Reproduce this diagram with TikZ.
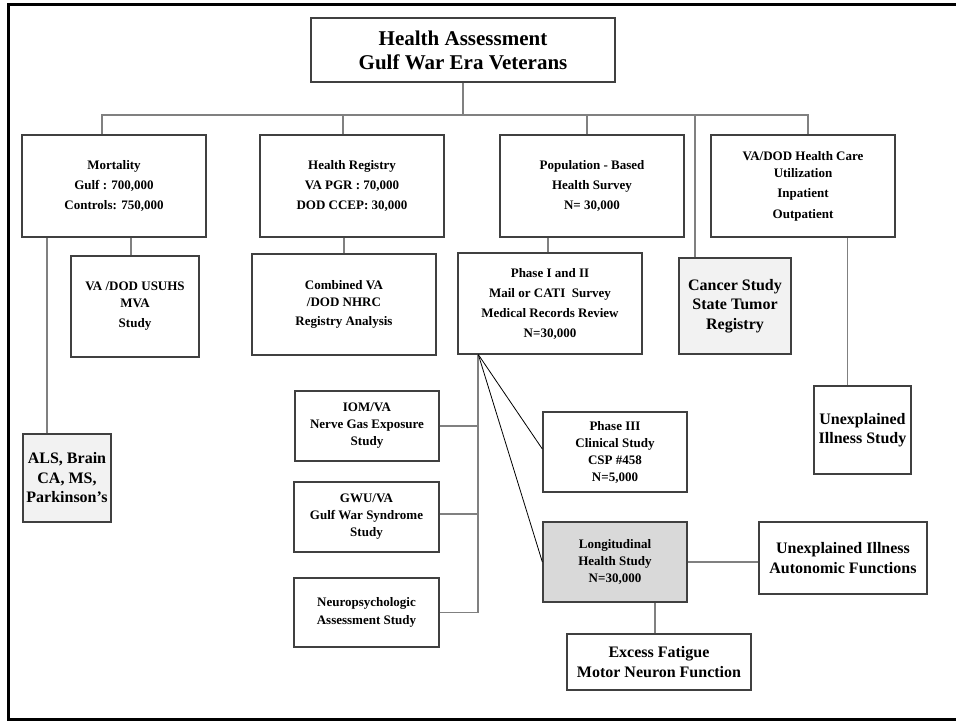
\documentclass[tikz,border=0pt]{standalone}
\usepackage{fontspec}
\setmainfont{Liberation Serif}
\usepackage{xcolor}
\usetikzlibrary{positioning,calc}
\definecolor{C_edge}{RGB}{64,64,64}
\definecolor{C_conn}{RGB}{128,128,128}
\definecolor{C_pale}{RGB}{242,242,242}
\definecolor{C_grey}{RGB}{217,217,217}

\begin{document}
\begin{tikzpicture}[x=1pt, y=-1pt]
  \tikzset{
    box/.style={rectangle, draw=C_edge, line width=1.3pt, fill=white, align=center, inner sep=2pt},
    smallA/.style={font=\fontsize{13}{20}\selectfont\bfseries},
    smallB/.style={font=\fontsize{13}{17}\selectfont\bfseries},
    bigtxt/.style={font=\fontsize{16}{19.5}\selectfont\bfseries},
    titletxt/.style={font=\fontsize{21}{24}\selectfont\bfseries},
    conn/.style={draw=C_conn, line width=1.8pt},
    diag/.style={draw=black, line width=0.8pt}
  }
  \useasboundingbox (0,0) rectangle (956,721);

  % frame
  \draw[line width=3pt] (956,4) -- (8,4) -- (8,719.5) -- (956,719.5);

  % top level
  \node[box, titletxt, minimum width=304, minimum height=64] (head) at (463,50) {Health Assessment\\Gulf War Era Veterans};

  \node[box, smallA, minimum width=184, minimum height=102] (mort) at (114,186) {Mortality\\Gulf : 700,000\\Controls: 750,000};
  \node[box, smallA, minimum width=184, minimum height=102] (reg) at (352,186) {Health Registry\\VA PGR : 70,000\\DOD CCEP: 30,000};
  \node[box, smallA, minimum width=184, minimum height=102] (pop) at (592,186) {Population - Based\\Health Survey\\N= 30,000};
  \node[box, smallB, minimum width=184, minimum height=102] (care) at (803,186) {VA/DOD Health Care\\Utilization\\[3pt]Inpatient\\[4pt]Outpatient};

  % second level
  \node[box, smallB, minimum width=128, minimum height=101] (usuhs) at (135,306.5) {VA /DOD USUHS\\MVA\\[3pt]Study};
  \node[box, smallB, minimum width=184, minimum height=101] (nhrc) at (344,304.5) {Combined VA\\/DOD NHRC\\[2pt]Registry Analysis};
  \node[box, smallA, minimum width=184, minimum height=101] (phase) at (550,303.5) {Phase I and II\\Mail or CATI~ Survey\\Medical Records Review\\N=30,000};
  \node[box, bigtxt, fill=C_pale, minimum width=112, minimum height=96] (cancer) at (735,306) {Cancer Study\\State Tumor\\Registry};
  \node[box, bigtxt, minimum width=97, minimum height=88] (unexpl) at (862.5,430) {Unexplained\\Illness Study};
  \node[box, bigtxt, fill=C_pale, minimum width=88, minimum height=88] (als) at (67,478) {ALS, Brain\\CA, MS,\\Parkinson's};

  % phase I/II branches
  \node[box, smallB, minimum width=144, minimum height=70] (iom) at (367,426) {IOM/VA\\Nerve Gas Exposure\\Study};
  \node[box, smallB, minimum width=145, minimum height=70] (gwu) at (366.5,517) {GWU/VA\\Gulf War Syndrome\\Study};
  \node[box, smallB, minimum width=145, minimum height=69] (neuro) at (366.5,612.5) {Neuropsychologic\\[1pt]Assessment Study};
  \node[box, smallB, minimum width=144, minimum height=80] (clin) at (615,452) {Phase III\\Clinical Study\\CSP \#458\\N=5,000};
  \node[box, smallB, fill=C_grey, minimum width=144, minimum height=80] (longi) at (615,562) {Longitudinal\\Health Study\\N=30,000};
  \node[box, bigtxt, minimum width=168, minimum height=72] (auton) at (843,558) {Unexplained Illness\\Autonomic Functions};
  \node[box, bigtxt, minimum width=184, minimum height=56] (fatigue) at (659,662) {Excess Fatigue\\Motor Neuron Function};

  % connectors
  \coordinate (bus) at ($(head.south)+(0,32)$);
  \draw[conn] (head.south) -- (bus);
  \draw[conn] ([xshift=-12]mort.north) |- (bus) -| ([xshift=5]care.north);
  \draw[conn] ([xshift=-9]reg.north) -- ([xshift=-9]reg.north |- bus);
  \draw[conn] ([xshift=-5]pop.north) -- ([xshift=-5]pop.north |- bus);
  \draw[conn] ([xshift=17]cancer.north west) -- ([xshift=17]cancer.north west |- bus);

  \draw[conn] ([xshift=-20]als.north) -- ([xshift=-20]als.north |- mort.south);
  \draw[conn] ([xshift=-4]usuhs.north) -- ([xshift=-4]usuhs.north |- mort.south);
  \draw[conn] (nhrc.north) -- (nhrc.north |- reg.south);
  \draw[conn] ([xshift=-2]phase.north) -- ([xshift=-2]phase.north |- pop.south);
  \draw[conn] ([xshift=-15]unexpl.north) -- ([xshift=-15]unexpl.north |- care.south);

  \coordinate (apex) at ([xshift=21]phase.south west);
  \draw[conn] (apex) |- (neuro.east);
  \draw[conn] (iom.east) -- (iom.east -| apex);
  \draw[conn] ([yshift=3]gwu.east) -- ([yshift=3]gwu.east -| apex);
  \draw[diag] (apex) -- ([yshift=3]clin.west);
  \draw[diag] (apex) -- (longi.west);

  \draw[conn] (longi.east) -- (longi.east -| auton.west);
  \draw[conn] ([xshift=-4]fatigue.north) -- ([xshift=-4]fatigue.north |- longi.south);
\end{tikzpicture}
\end{document}
